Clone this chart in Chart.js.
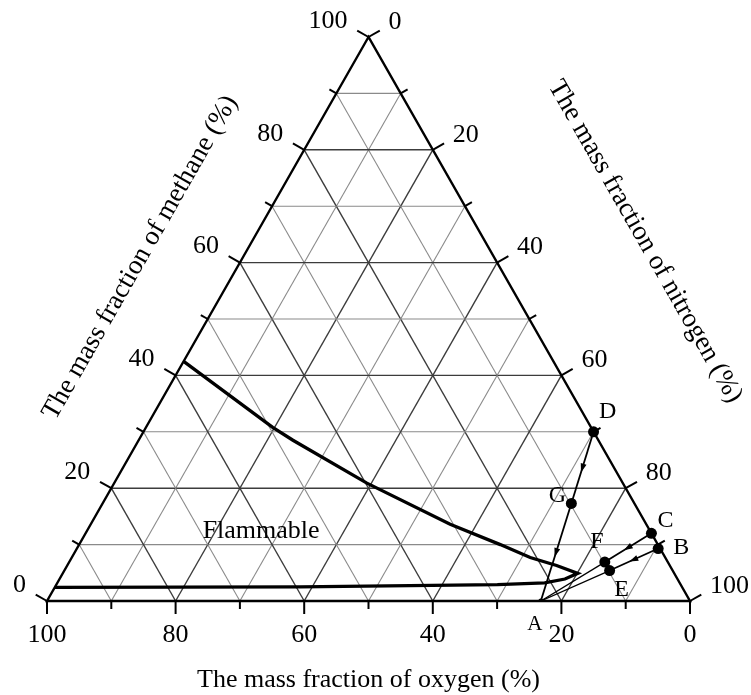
<!DOCTYPE html>
<html>
<head>
<meta charset="utf-8">
<script src="https://cdn.jsdelivr.net/npm/chart.js@4.4.1/dist/chart.umd.min.js"></script>
<style>
  html, body { margin: 0; padding: 0; background: #fff; }
  #wrap { width: 751px; height: 695px; }
</style>
</head>
<body>
<div id="wrap"><canvas id="chart-1"></canvas></div>
<script>
// ternary diagram: methane (left axis), oxygen (bottom axis), nitrogen (right axis), all in %
const tickValues = [0, 20, 40, 60, 80, 100];
const gridValues = [10, 20, 30, 40, 50, 60, 70, 80, 90];

// flammable region boundary (methane %, oxygen %)
const boundaryMethane = [42.5, 30.8, 28.5, 20.9, 13.6, 10.0, 7.7, 6.3, 4.9, 3.9, 3.2, 2.9, 2.5, 2.4];
const boundaryOxygen  = [57.5, 49.5, 47.5, 39.8, 30.5, 24.5, 21.0, 17.6, 15.0, 17.5, 21.0, 28.5, 59.4, 97.6];

const pointNames   = ['A', 'B', 'C', 'D', 'E', 'F', 'G'];
const pointMethane = [0, 9.3, 12.0, 30.0, 5.4, 6.9, 17.3];
const pointOxygen  = [23.2, 0.3, 0, 0, 9.8, 9.8, 9.8];

const arrowPaths = [['D', 'G'], ['G', 'A'], ['C', 'F'], ['B', 'E']];
const plainPaths = [['A', 'F'], ['A', 'E']];

const FONT = '"Liberation Serif", "Times New Roman", serif';

// methane/oxygen -> plot coords (x along the base, y = methane)
function tern(m, o) {
  const n = 100 - m - o;
  return { x: n + m / 2, y: m };
}
function ptOf(name) {
  const i = pointNames.indexOf(name);
  return tern(pointMethane[i], pointOxygen[i]);
}

const boundaryData = boundaryMethane.map((m, i) => tern(m, boundaryOxygen[i]));

const datasets = [{
  label: 'boundary',
  data: boundaryData,
  showLine: true,
  borderColor: '#000',
  borderWidth: 3.3,
  pointRadius: 0,
  tension: 0
}];
arrowPaths.concat(plainPaths).forEach(function (p, k) {
  datasets.push({
    label: p.join('-'),
    data: [ptOf(p[0]), ptOf(p[1])],
    showLine: true,
    borderColor: '#000',
    borderWidth: k < arrowPaths.length ? 1.8 : 1.3,
    pointRadius: 0
  });
});
datasets.push({
  label: 'points',
  data: pointNames.map(ptOf),
  showLine: false,
  pointRadius: pointNames.map(n => n === 'A' ? 2.5 : 5.5),
  pointBackgroundColor: '#000',
  pointBorderColor: '#000',
  pointBorderWidth: 0
});

const labelOffsets = { A: [-6, 23], B: [23, -1], C: [14, -13], D: [14, -20], E: [12, 19], F: [-8, -20], G: [-14, -8] };

function seg(ctx, a, b) {
  ctx.beginPath();
  ctx.moveTo(a[0], a[1]);
  ctx.lineTo(b[0], b[1]);
  ctx.stroke();
}

const ternaryFrame = {
  id: 'ternaryFrame',
  beforeDatasetsDraw(chart) {
    const ctx = chart.ctx;
    const sx = chart.scales.x, sy = chart.scales.y;
    const P = (m, o) => { const t = tern(m, o); return [sx.getPixelForValue(t.x), sy.getPixelForValue(t.y)]; };
    ctx.save();
    // grid
    gridValues.forEach(function (k) {
      const major = k % 20 === 0;
      ctx.strokeStyle = major ? '#3c3c3c' : '#8a8a8a';
      ctx.lineWidth = major ? 1.4 : 1.1;
      seg(ctx, P(k, 100 - k), P(k, 0));
      seg(ctx, P(0, 100 - k), P(100 - k, 0));
      seg(ctx, P(0, k), P(100 - k, k));
    });
    // frame
    const ap = P(100, 0), bl = P(0, 100), br = P(0, 0);
    ctx.strokeStyle = '#000';
    ctx.lineWidth = 2.4;
    ctx.lineJoin = 'miter';
    ctx.beginPath();
    ctx.moveTo(ap[0], ap[1]); ctx.lineTo(bl[0], bl[1]); ctx.lineTo(br[0], br[1]); ctx.closePath();
    ctx.stroke();

    const L = Math.hypot(ap[0] - bl[0], ap[1] - bl[1]);
    const nl = [(ap[1] - bl[1]) / L, -(ap[0] - bl[0]) / L];   // outward normal, left side
    const nr = [(br[1] - ap[1]) / L, -(br[0] - ap[0]) / L];   // outward normal, right side

    ctx.fillStyle = '#000';
    ctx.font = '26px ' + FONT;
    ctx.lineWidth = 2;
    [0].concat(gridValues, [100]).forEach(function (v) {
      const major = tickValues.indexOf(v) >= 0;
      const len = major ? 13 : 8;
      // bottom: oxygen
      const b = P(0, v);
      seg(ctx, b, [b[0], b[1] + len]);
      // left: methane
      const l = P(v, 100 - v);
      seg(ctx, l, [l[0] + nl[0] * len, l[1] + nl[1] * len]);
      // right: nitrogen
      const r = P(100 - v, 0);
      seg(ctx, r, [r[0] + nr[0] * len, r[1] + nr[1] * len]);
      if (major) {
        ctx.textBaseline = 'middle';
        ctx.textAlign = 'center';
        ctx.fillText(String(v), b[0], b[1] + 34);
        ctx.textAlign = 'right';
        ctx.fillText(String(v), l[0] - 21, l[1] - 16);
        ctx.textAlign = 'left';
        ctx.fillText(String(v), r[0] + 20, r[1] - 15);
      }
    });

    // axis titles
    ctx.font = '26px ' + FONT;
    ctx.textAlign = 'center';
    ctx.textBaseline = 'middle';
    ctx.fillText('The mass fraction of oxygen (%)', (bl[0] + br[0]) / 2, bl[1] + 79);
    ctx.font = '27px ' + FONT;
    const ang = Math.atan2(ap[1] - bl[1], ap[0] - bl[0]);
    const lm = [(ap[0] + bl[0]) / 2, (ap[1] + bl[1]) / 2];
    const ux = (ap[0] - bl[0]) / L, uy = (ap[1] - bl[1]) / L;
    ctx.save();
    ctx.translate(lm[0] + nl[0] * 89 + ux * 20, lm[1] + nl[1] * 89 + uy * 20);
    ctx.rotate(ang);
    ctx.fillText('The mass fraction of methane (%)', 0, 0);
    ctx.restore();
    const rm = [(ap[0] + br[0]) / 2, (ap[1] + br[1]) / 2];
    const vx = (br[0] - ap[0]) / L, vy = (br[1] - ap[1]) / L;
    ctx.save();
    ctx.translate(rm[0] + nr[0] * 139 - vx * 10, rm[1] + nr[1] * 139 - vy * 10);
    ctx.rotate(Math.atan2(br[1] - ap[1], br[0] - ap[0]));
    ctx.fillText('The mass fraction of nitrogen (%)', 0, 0);
    ctx.restore();

    ctx.font = '26px ' + FONT;
    const fl = P(12.4, 60.5);
    ctx.fillText('Flammable', fl[0], fl[1]);
    ctx.restore();
  },
  afterDatasetsDraw(chart) {
    const ctx = chart.ctx;
    const sx = chart.scales.x, sy = chart.scales.y;
    const px = name => { const t = ptOf(name); return [sx.getPixelForValue(t.x), sy.getPixelForValue(t.y)]; };
    ctx.save();
    ctx.fillStyle = '#000';
    // arrow heads half way along each path
    arrowPaths.forEach(function (p) {
      const a = px(p[0]), b = px(p[1]);
      const d = Math.hypot(b[0] - a[0], b[1] - a[1]);
      const ux = (b[0] - a[0]) / d, uy = (b[1] - a[1]) / d;
      const mx = (a[0] + b[0]) / 2, my = (a[1] + b[1]) / 2;
      ctx.beginPath();
      ctx.moveTo(mx + ux * 5, my + uy * 5);
      ctx.lineTo(mx - ux * 4 - uy * 3, my - uy * 4 + ux * 3);
      ctx.lineTo(mx - ux * 4 + uy * 3, my - uy * 4 - ux * 3);
      ctx.closePath();
      ctx.fill();
    });
    ctx.textAlign = 'center';
    ctx.textBaseline = 'middle';
    pointNames.forEach(function (n) {
      const p = px(n), off = labelOffsets[n];
      ctx.font = (n === 'A' ? '21px ' : '24px ') + FONT;
      ctx.fillText(n, p[0] + off[0], p[1] + off[1]);
    });
    ctx.restore();
  }
};

const ctx1 = document.getElementById('chart-1').getContext('2d');
const myChart1 = new Chart(ctx1, {
  type: 'scatter',
  data: { datasets: datasets },
  options: {
    responsive: true,
    maintainAspectRatio: false,
    animation: false,
    layout: { padding: { left: 47, right: 61, top: 37, bottom: 94 } },
    scales: {
      x: { type: 'linear', min: 0, max: 100, display: false },
      y: { type: 'linear', min: 0, max: 100, display: false }
    },
    plugins: {
      legend: { display: false },
      tooltip: { enabled: false }
    }
  },
  plugins: [ternaryFrame]
});
</script>
</body>
</html>
